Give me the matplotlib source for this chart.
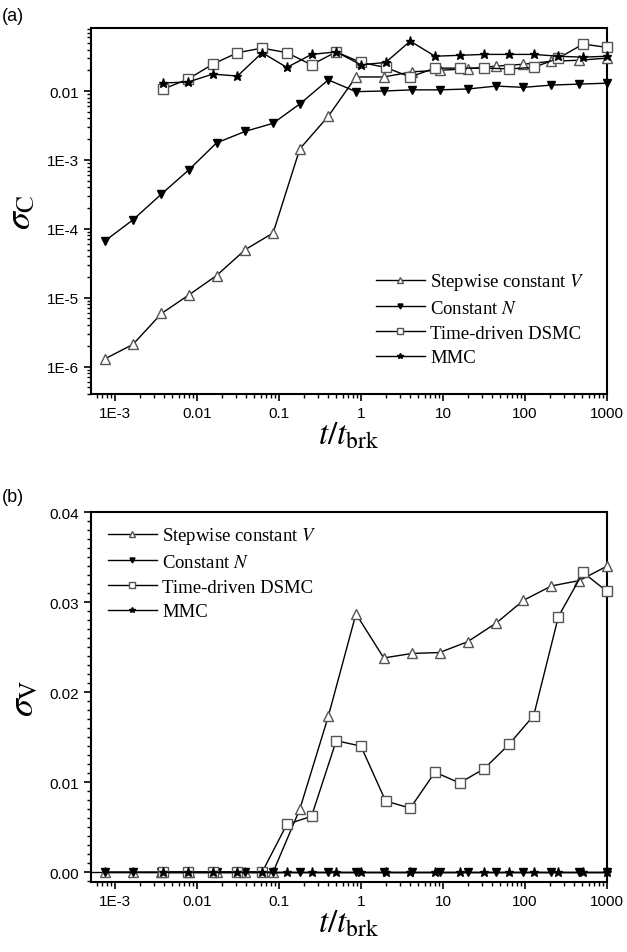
import math

import matplotlib
matplotlib.use("Agg")
import matplotlib.pyplot as plt
from matplotlib.ticker import FixedLocator, FuncFormatter, MultipleLocator, NullFormatter

# x positions (t / t_brk)
x_tri = [7.6e-4, 1.66e-3, 3.7e-3, 8.0e-3, 0.0174, 0.039, 0.085, 0.18, 0.40, 0.87,
         1.9, 4.2, 9.1, 20, 45, 96, 210, 460, 1000]
x_sq = [0.0039, 0.0078, 0.0156, 0.03125, 0.0625, 0.125, 0.25, 0.5, 1, 2,
        4, 8, 16, 32, 64, 128, 256, 512, 1000]

# panel (a): sigma_C
sc_stepwise = [1.3e-6, 2.1e-6, 5.9e-6, 1.1e-5, 2.1e-5, 5.0e-5, 8.7e-5, 1.45e-3, 4.3e-3, 0.016,
               0.016, 0.019, 0.020, 0.021, 0.023, 0.0245, 0.027, 0.028, 0.030]
sc_constn = [6.7e-5, 1.35e-4, 3.2e-4, 7.2e-4, 1.77e-3, 2.6e-3, 3.4e-3, 6.5e-3, 0.0145, 0.0098,
             0.0100, 0.0104, 0.0104, 0.0107, 0.0118, 0.0113, 0.0122, 0.0126, 0.013]
sc_dsmc = [0.0107, 0.0149, 0.0245, 0.036, 0.042, 0.036, 0.024, 0.037, 0.026, 0.022,
           0.016, 0.0215, 0.0215, 0.0215, 0.021, 0.022, 0.030, 0.048, 0.043]
sc_mmc = [0.0131, 0.0135, 0.0176, 0.0165, 0.036, 0.022, 0.034, 0.037, 0.024, 0.026,
          0.053, 0.032, 0.033, 0.034, 0.034, 0.034, 0.032, 0.031, 0.032]

# panel (b): sigma_V
sv_stepwise = [0, 0, 0, 0, 0, 0, 0, 0.0070, 0.0173, 0.0287,
               0.0238, 0.0243, 0.0244, 0.0256, 0.0277, 0.0302, 0.0318, 0.0324, 0.034]
sv_constn = [0] * 19
sv_dsmc = [0, 0, 0, 0, 0, 0.0053, 0.0062, 0.0146, 0.0140, 0.0079,
           0.0071, 0.0111, 0.0099, 0.0115, 0.0142, 0.0174, 0.0284, 0.0333, 0.0312]
sv_mmc = [0] * 19

labels = ["Stepwise constant $V$", "Constant $N$", "Time-driven DSMC", "MMC"]
x_ticks = [1e-3, 0.01, 0.1, 1, 10, 100, 1000]
x_minor = [m * 10.0 ** e for e in range(-4, 3) for m in range(2, 10)
           if 5.1e-4 <= m * 10.0 ** e <= 1000]
ya_ticks = [1e-6, 1e-5, 1e-4, 1e-3, 1e-2]
ya_minor = [m * 10.0 ** e for e in range(-7, -1) for m in range(2, 10)
            if 4e-7 <= m * 10.0 ** e <= 0.082]

plt.rcParams["font.family"] = ["Liberation Sans", "DejaVu Sans"]
plt.rcParams["mathtext.fontset"] = "stix"

fig = plt.figure(figsize=(6.27, 9.53), dpi=100)
ax_a = fig.add_axes([0.145, 0.5855, 0.823, 0.384])
ax_b = fig.add_axes([0.145, 0.0735, 0.823, 0.388])

GREY = "#555555"
LEG_FONT = {"family": "Liberation Serif", "size": 13.5}


def draw(ax, y1, y2, y3, y4):
    ax.plot(x_tri, y1, color="black", lw=1, marker="^", ms=7.5, mfc="white",
            mec=GREY, mew=1, label=labels[0], clip_on=False, zorder=3)
    ax.plot(x_tri, y2, color="black", lw=1, marker="v", ms=6, mfc="black",
            mec="black", label=labels[1], clip_on=False, zorder=3)
    ax.plot(x_sq, y3, color="black", lw=1, marker="s", ms=6.5, mfc="white",
            mec=GREY, mew=1, label=labels[2], clip_on=False, zorder=3)
    ax.plot(x_sq, y4, color="black", lw=1, marker="*", ms=6.5, mfc="black",
            mec="black", label=labels[3], clip_on=False, zorder=3)


def x_fmt(v, pos):
    return "1E-3" if v < 0.005 else f"{v:g}"


def style(ax):
    ax.set_xscale("log")
    ax.set_xlim(5.1e-4, 1000)
    ax.xaxis.set_major_locator(FixedLocator(x_ticks))
    ax.xaxis.set_minor_locator(FixedLocator(x_minor))
    ax.xaxis.set_major_formatter(FuncFormatter(x_fmt))
    ax.xaxis.set_minor_formatter(NullFormatter())
    for s in ax.spines.values():
        s.set_linewidth(1.5)
    ax.tick_params(which="major", direction="out", length=5, width=1.2, labelsize=11,
                   top=False, right=False)
    ax.tick_params(which="minor", direction="out", length=3, width=1, top=False, right=False)
    ax.set_xlabel(r"$t/t_{\rm brk}$", fontsize=24, labelpad=0)


def legend(ax, **kw):
    ax.legend(frameon=False, prop=LEG_FONT, handlelength=2.6, handletextpad=0.3,
              labelspacing=0.4, markerscale=0.6, **kw)


draw(ax_a, sc_stepwise, sc_constn, sc_dsmc, sc_mmc)
style(ax_a)
ax_a.set_yscale("log")
ax_a.set_ylim(4e-7, 0.082)
ax_a.yaxis.set_major_locator(FixedLocator(ya_ticks))
ax_a.yaxis.set_minor_locator(FixedLocator(ya_minor))
ax_a.yaxis.set_major_formatter(
    FuncFormatter(lambda v, p: "0.01" if v > 5e-3 else f"1E{int(round(math.log10(v)))}"))
ax_a.yaxis.set_minor_formatter(NullFormatter())
ax_a.set_ylabel(r"$\sigma_{\rm C}$", fontsize=26, labelpad=6)
legend(ax_a, loc="lower right", bbox_to_anchor=(0.99, 0.03))

draw(ax_b, sv_stepwise, sv_constn, sv_dsmc, sv_mmc)
style(ax_b)
ax_b.set_ylim(-0.0011, 0.04)
ax_b.yaxis.set_major_locator(MultipleLocator(0.01))
ax_b.yaxis.set_minor_locator(MultipleLocator(0.001))
ax_b.yaxis.set_major_formatter(FuncFormatter(lambda v, p: f"{v:.2f}"))
ax_b.axhline(0, color="black", lw=1, zorder=1)
ax_b.set_ylabel(r"$\sigma_{\rm V}$", fontsize=26, labelpad=6)
legend(ax_b, loc="upper left", bbox_to_anchor=(0.0, 1.01))

fig.text(0.003, 0.992, "(a)", fontsize=13, va="top", ha="left")
fig.text(0.003, 0.487, "(b)", fontsize=13, va="top", ha="left")

fig.savefig("out.png", dpi=100)
